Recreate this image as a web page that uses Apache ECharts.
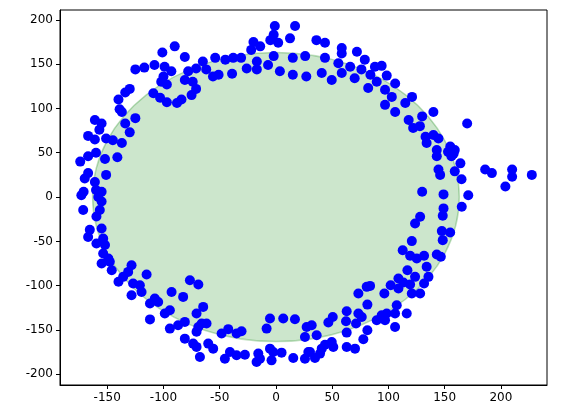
<!DOCTYPE html>
<html>
<head>
<meta charset="utf-8">
<script src="https://cdn.jsdelivr.net/npm/echarts@6/dist/echarts.min.js"></script>
<style>html,body{margin:0;padding:0;background:#fff}#chart{width:563px;height:413px}</style>
</head>
<body>
<div id="chart"></div>
<script>
const xTicks = [-150, -100, -50, 0, 50, 100, 150, 200];
const yTicks = [-200, -150, -100, -50, 0, 50, 100, 150, 200];

// the shaded region: centre and radii in data units
const regionCenter = [0, 0];
const regionRadius = [163, 163];

const points = [
  [-1,193],[17,193],[-2,183],[-5,177],[12.5,179],[2,174],[-20,175],[-14,170],[-22,166],[-90,170],
  [-101,163],[-81,158],[-65,153],[-54,157],[-45,155],[-38,157],[-31,157],[-17,153],[-2,159],[15,157],
  [26,159],[-125,144],[-117,146],[-108,149],[-99,147],[-93,142],[-78,142],[-71,145],[-62,144],[-56,136],
  [-51,138],[-39,139],[-26,145],[-17,144],[-7,149],[3.5,142],[15,138],[27,136],[-100,136],[-102,130],
  [-97,127],[-81,132],[-74,130],[-71,122],[-75,115],[-109,117],[-103,112],[-97,107],[-88,106],[-84,110],
  [-130,122],[-134,118],[-140,110],[-139,99],[-137,96],[-125,89],[-134,83],[-130,73],[-161,87],[-155,83],
  [-157,76],[-167,69],[-161,65],[-151,66],[-145,64],[-137,61],[-160,50],[-167,46],[-174,40],[-152,43],
  [-141,45],[-167,27],[-170,21],[-161,17],[-151,25],[-171,6],[-160,8],[-155,6],[-173,2],[-158,0],
  [36,177],[43.6,174],[58.5,168],[72,164],[58.5,162],[79,155],[88,147],[94,148],[43.6,157],[55.5,151],
  [66,147],[76,144],[84,138],[98.5,137],[106,128],[40.7,140],[49.6,132],[58.5,140],[70,134],[82,123],
  [89.6,130],[97,121],[103,113],[97,104],[106,96],[115,106],[121,113],[140,96],[118,87],[130,91],
  [122,78],[128,80],[133,68],[140,70],[144.5,66],[134,61],[143,53],[155,57],[159,53],[156,46],
  [143,46],[144.5,31],[146,25],[164,38],[159,29],[165,20],[130,6],[149,3],[171,2],[170,83],
  [186,31],[192,27],[210,31],[210,23],[204,12],[227.5,25],[158,49],[153,51],
  [-171.4,-14.7],[-156.6,-14.7],[-155,-5],[-159.6,-22],[-165.5,-37],[-155,-35.4],[-167,-45],[-153.6,-46.7],
  [-159.6,-52.4],[-152,-54],[-153.6,-63.6],[-149,-69.3],[-155,-75],[-147.7,-73],[-146,-82.5],[-140,-95.6],
  [-135.8,-90],[-128.4,-77],[-131.4,-84.4],[-127,-97.5],[-121,-99.4],[-119.5,-107],[-128.4,-110.7],[-115,-87.4],
  [-112,-120],[-107.7,-114.5],[-104.7,-118.3],[-112,-138],[-98.8,-131.4],[-94.3,-127.7],[-92.8,-107],[-82.5,-112.6],
  [-76.5,-93.8],[-69,-98.7],[-94.3,-148.4],[-87,-144.6],[-81,-140.8],[-70.6,-131.4],[-64.7,-123.9],[-69,-146.5],
  [-66,-142.7],[-61.7,-142.7],[-70.6,-152],[-81,-159.7],[-73.6,-165.3],[-70.6,-169],[-67.6,-180.4],[-60.2,-165.3],
  [-55.8,-171],[-48.3,-154],[-42.4,-149],[-35,-154],[-30.6,-151.4],[-45.4,-182.3],[-40.9,-174.8],[-35,-178.5],
  [-27.6,-177.8],[-15.7,-176.6],[-14.2,-182.3],[-17.2,-186],[-5.3,-171],[-2.4,-174.8],[5,-175.5],[-3.9,-184.2],
  [-8.3,-148.4],[-5.3,-137],[6.5,-137],[16.9,-137.8],[15.4,-181.5],[25.8,-157.8],[27.3,-146.5],[25.8,-182.3],
  [28.8,-174.8],
  [149,-12.8],[148.3,-21],[165.2,-11],[128.2,-22.2],[123.7,-29.8],[147.5,-38.4],[154.9,-40],[148.3,-48.6],
  [120.8,-49.7],[112.7,-60],[119.3,-66.3],[125.2,-69.3],[131.7,-66.3],[143,-64.8],[146.6,-67.4],[134,-78.7],
  [116.9,-82.5],[123.7,-90],[135.6,-90],[131.7,-97.5],[108.9,-91.9],[113.3,-96.4],[102,-99.4],[108.9,-103.2],
  [119.3,-98.7],[120.8,-108.8],[128.2,-108.8],[80.7,-101.3],[83.7,-100.2],[73.3,-108.8],[96.4,-108.8],[107.4,-122],
  [81.3,-121.3],[62.9,-128.8],[73.3,-131.4],[76.3,-135.2],[62.3,-140],[71.2,-142.7],[50.5,-135.2],[46.6,-141.6],
  [89.6,-139],[94,-133.3],[98.5,-131.4],[97,-139],[105.9,-131.4],[116.3,-131.4],[105.9,-146.5],[62.9,-152.9],
  [81.3,-150.3],[77.7,-160.4],[36.2,-155.9],[31.8,-144.6],[62.9,-169.1],[70.3,-171],[51,-169.1],[49.6,-163.4],
  [43.6,-166.5],[40.7,-171],[39.2,-176.6],[34.7,-181.5],[30.3,-174.8]
];

const chart = echarts.init(document.getElementById('chart'));

const axisCommon = {
  axisLine: { show: true, onZero: false, lineStyle: { color: '#000' } },
  axisTick: { show: true, inside: false, length: 4, lineStyle: { color: '#000' } },
  axisLabel: { color: '#000', fontSize: 12, fontFamily: 'DejaVu Sans' },
  splitLine: { show: false }
};

chart.setOption({
  animation: false,
  grid: { left: 60, right: 16, top: 10, bottom: 28, show: true, borderColor: '#000', borderWidth: 1 },
  xAxis: {
    type: 'value', min: -192, max: 241, ...axisCommon,
    axisTick: { ...axisCommon.axisTick, customValues: xTicks },
    axisLabel: { ...axisCommon.axisLabel, customValues: xTicks, margin: 7 }
  },
  yAxis: {
    type: 'value', min: -212, max: 211, ...axisCommon,
    axisTick: { ...axisCommon.axisTick, customValues: yTicks },
    axisLabel: { ...axisCommon.axisLabel, customValues: yTicks, margin: 7 }
  },
  series: [
    {
      type: 'custom',
      data: [regionCenter],
      z: 1,
      renderItem: (params, api) => {
        const c = api.coord(regionCenter);
        const ex = api.coord([regionCenter[0] + regionRadius[0], regionCenter[1]]);
        const ey = api.coord([regionCenter[0], regionCenter[1] + regionRadius[1]]);
        return {
          type: 'ellipse',
          shape: { cx: c[0], cy: c[1], rx: Math.abs(ex[0] - c[0]), ry: Math.abs(c[1] - ey[1]) },
          style: { fill: 'rgba(0,128,0,0.2)', stroke: 'rgba(0,128,0,0.25)', lineWidth: 1.5 }
        };
      }
    },
    {
      type: 'scatter',
      data: points,
      z: 2,
      symbolSize: 10,
      itemStyle: { color: '#0000ff', opacity: 1 }
    }
  ]
});
</script>
</body>
</html>
